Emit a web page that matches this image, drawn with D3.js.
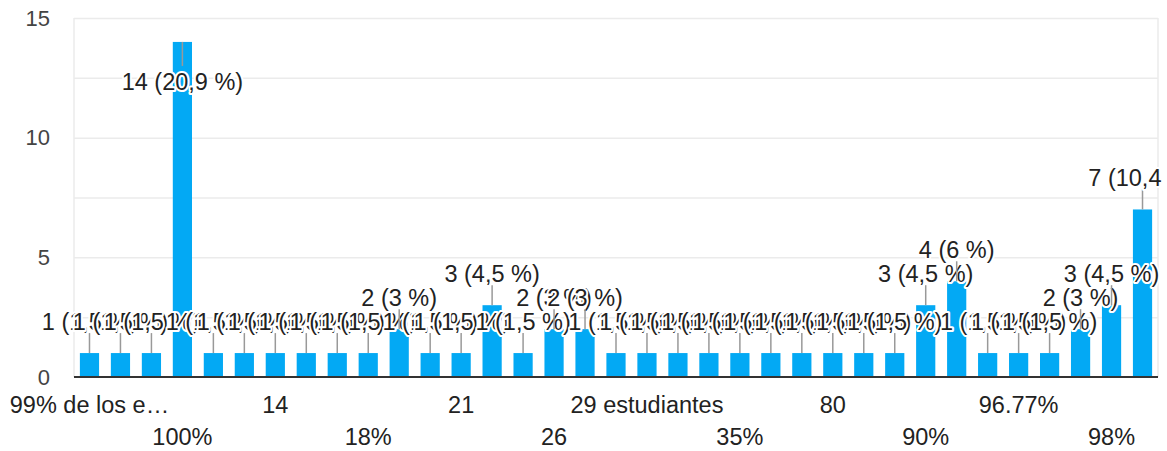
<!DOCTYPE html>
<html>
<head>
<meta charset="utf-8">
<script src="https://cdn.jsdelivr.net/npm/d3@7"></script>
<style>
  body { margin: 0; background: #fff; }
  svg text { font-family: Arial, "Liberation Sans", sans-serif; }
</style>
</head>
<body>
<div id="chart"></div>
<script>
// answers, in the order the form lists them
const categories = [
  "99% de los estudiantes", "0%", "1", "100%", "12", "13%", "14", "15", "17", "18%",
  "2", "20%", "21", "25", "25%", "26", "28", "29", "29 estudiantes", "3",
  "30%", "35%", "40", "50%", "80", "85%", "9", "90%", "95%", "96",
  "96.77%", "97", "97%", "98%", "99%"
];
const counts = [
  1, 1, 1, 14, 1, 1, 1, 1, 1, 1,
  2, 1, 1, 3, 1, 2, 2, 1, 1, 1,
  1, 1, 1, 1, 1, 1, 1, 3, 4, 1,
  1, 1, 2, 3, 7
];
const yTicks = [0, 5, 10, 15];
const yGrid = [2.5, 5, 7.5, 10, 12.5, 15];

const width = 1167, height = 451;
const plot = { left: 74, right: 1158, top: 18, bottom: 377 };

const total = d3.sum(counts);
const data = categories.map((c, i) => ({ cat: c, value: counts[i], idx: i }));

const svg = d3.select('#chart').append('svg')
    .attr('width', width)
    .attr('height', height);

const x = d3.scaleBand()
    .domain(categories)
    .range([plot.left, plot.right])
    .paddingInner(0.38)
    .paddingOuter(0.19);

const y = d3.scaleLinear()
    .domain([0, 15])
    .range([plot.bottom, plot.top]);

// gridlines
svg.append('g')
    .attr('transform', `translate(${plot.left},0)`)
    .call(d3.axisLeft(y).tickValues(yGrid).tickSize(-(plot.right - plot.left)).tickFormat(''))
    .call(g => g.select('.domain').remove())
    .call(g => g.selectAll('line').attr('stroke', '#ebebeb').attr('stroke-width', 1.5));

// chart area sides
svg.append('g').selectAll('line')
    .data([plot.left, plot.right])
    .join('line')
    .attr('x1', d => d).attr('x2', d => d)
    .attr('y1', y(15)).attr('y2', y(0))
    .attr('stroke', '#ebebeb')
    .attr('stroke-width', 1.5);

// y labels
svg.append('g')
    .attr('transform', `translate(50,0)`)
    .call(d3.axisLeft(y).tickValues(yTicks).tickSize(0).tickPadding(0))
    .call(g => g.select('.domain').remove())
    .call(g => g.selectAll('text')
        .attr('font-size', '22px')
        .attr('fill', '#444')
        .attr('font-family', 'Arial, "Liberation Sans", sans-serif'));

// bars
svg.append('g').selectAll('rect')
    .data(data)
    .join('rect')
    .attr('x', d => x(d.cat))
    .attr('y', d => y(d.value))
    .attr('width', x.bandwidth())
    .attr('height', d => y(0) - y(d.value))
    .attr('fill', '#03a9f4');

// baseline
svg.append('line')
    .attr('x1', plot.left).attr('x2', plot.right)
    .attr('y1', y(0)).attr('y2', y(0))
    .attr('stroke', '#333')
    .attr('stroke-width', 2);

// x labels, every third category on two alternating rows
const shown = categories.filter((c, i) => i % 3 === 0);
const xAxis = svg.append('g')
    .attr('transform', `translate(0,${y(0)})`)
    .call(d3.axisBottom(x).tickValues(shown).tickSize(0))
    .call(g => g.select('.domain').remove());

xAxis.selectAll('text')
    .attr('font-size', '23.5px')
    .attr('fill', '#222')
    .attr('font-family', 'Arial, "Liberation Sans", sans-serif')
    .attr('dy', null)
    .attr('y', d => (categories.indexOf(d) / 3) % 2 === 0 ? 36 : 68)
    .each(function () {
        const t = d3.select(this);
        let s = t.text();
        if (this.getComputedTextLength() > 165) {
            while (s.length > 1 && this.getComputedTextLength() > 160) {
                s = s.slice(0, -1);
                t.text(s.trimEnd() + '…');
            }
        }
    });

// annotations
const fmtPct = v => {
    const p = Math.round(v / total * 1000) / 10;
    return String(p).replace('.', ',');
};

const ann = svg.append('g').selectAll('g')
    .data(data)
    .join('g')
    .attr('transform', d => `translate(${x(d.cat) + x.bandwidth() / 2},${y(d.value)})`);

ann.each(function (d) {
    const g = d3.select(this);
    const top = y(d.value);
    const inside = top - 40 < plot.top;
    g.append('line')
        .attr('x1', 0).attr('x2', 0)
        .attr('y1', 0).attr('y2', inside ? 24 : -20)
        .attr('stroke', '#999')
        .attr('stroke-width', 1.5);
    g.append('text')
        .attr('text-anchor', 'middle')
        .attr('y', inside ? 48 : -23)
        .attr('font-size', '23.5px')
        .attr('fill', '#222')
        .attr('stroke', '#fff')
        .attr('stroke-width', 4)
        .attr('stroke-linejoin', 'round')
        .attr('paint-order', 'stroke')
        .text(`${d.value} (${fmtPct(d.value)} %)`);
});
</script>
</body>
</html>
